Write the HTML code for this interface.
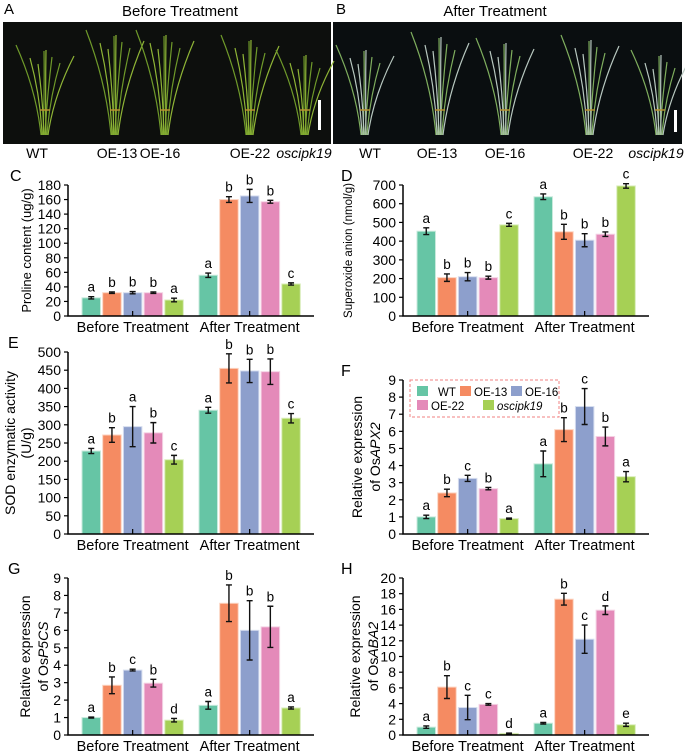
<!DOCTYPE html>
<html><head><meta charset="utf-8"><style>
html,body{margin:0;padding:0;background:#fff;}
svg{display:block;font-family:"Liberation Sans",Arial,sans-serif;}
</style></head><body>
<svg id="fig" width="685" height="756" viewBox="0 0 685 756">
  <text x="4" y="14" font-size="15">A</text>
  <text x="180" y="16" font-size="15" text-anchor="middle">Before Treatment</text>
  <text x="336" y="14" font-size="15">B</text>
  <text x="495" y="16" font-size="15" text-anchor="middle">After Treatment</text>
  <rect x="3" y="22" width="328" height="122" fill="#0d0f0d"/>
  <rect x="333" y="22" width="349" height="122" fill="#0a0e10"/>
  <g id="plants"></g>
  <rect x="318" y="100" width="3" height="30" fill="#fff"/>
  <rect x="674" y="110" width="3" height="22" fill="#fff"/>
  <g font-size="14" text-anchor="middle">
    <text x="37" y="158">WT</text>
    <text x="117" y="158">OE-13</text>
    <text x="160" y="158">OE-16</text>
    <text x="250" y="158">OE-22</text>
    <text x="304" y="158" font-style="italic">oscipk19</text>
    <text x="370" y="158">WT</text>
    <text x="437" y="158">OE-13</text>
    <text x="505" y="158">OE-16</text>
    <text x="593" y="158">OE-22</text>
    <text x="656" y="158" font-style="italic">oscipk19</text>
  </g>
  <g id="charts"></g>
</svg>
<script>
const NS="http://www.w3.org/2000/svg";
const colors=["#66c5a5","#f58b62","#8d9fcc","#e48ab9","#a6d055"];
const strokes=["#c8eadc","#fcd3c0","#d6ddef","#f4d2e4","#d9edb9"];
const groups=["Before Treatment","After Treatment"];

const cTicks=[0,20,40,60,80,100,120,140,160,180];
const cBefore=[25,32,32,32,22];const cBeforeErr=[1.5,1,1.5,1,2.5];const cBeforeLet=["a","b","b","b","a"];
const cAfter=[56,160,165,157,44];const cAfterErr=[3,4,9,2,1.5];const cAfterLet=["a","b","b","b","c"];

const dTicks=[0,100,200,300,400,500,600,700];
const dBefore=[453,205,210,205,487];const dBeforeErr=[18,20,22,8,8];const dBeforeLet=["a","b","b","b","c"];
const dAfter=[637,450,405,437,695];const dAfterErr=[15,40,35,12,12];const dAfterLet=["a","b","b","b","c"];

const eTicks=[0,50,100,150,200,250,300,350,400,450,500];
const eBefore=[228,272,295,278,204];const eBeforeErr=[7,20,55,28,12];const eBeforeLet=["a","b","a","b","c"];
const eAfter=[340,455,448,446,318];const eAfterErr=[8,40,32,35,13];const eAfterLet=["a","b","b","b","c"];

const fTicks=[0,1,2,3,4,5,6,7,8,9];
const fBefore=[1.0,2.4,3.25,2.65,0.9];const fBeforeErr=[0.1,0.22,0.18,0.07,0.03];const fBeforeLet=["a","b","c","b","a"];
const fAfter=[4.1,6.1,7.45,5.7,3.35];const fAfterErr=[0.75,0.7,1.05,0.55,0.3];const fAfterLet=["a","b","c","b","a"];

const gTicks=[0,1,2,3,4,5,6,7,8,9];
const gBefore=[1.0,2.85,3.72,2.97,0.85];const gBeforeErr=[0.03,0.48,0.05,0.22,0.1];const gBeforeLet=["a","b","c","b","d"];
const gAfter=[1.7,7.55,6.0,6.2,1.55];const gAfterErr=[0.22,1.05,1.7,1.18,0.06];const gAfterLet=["a","b","b","b","a"];

const hTicks=[0,2,4,6,8,10,12,14,16,18,20];
const hBefore=[1.0,6.1,3.5,3.9,0.2];const hBeforeErr=[0.15,1.45,1.55,0.1,0.05];const hBeforeLet=["a","b","c","c","d"];
const hAfter=[1.5,17.3,12.2,15.9,1.3];const hAfterErr=[0.1,0.75,1.8,0.55,0.2];const hAfterLet=["a","b","c","d","e"];

function mk(tag,attrs,parent){const e=document.createElementNS(NS,tag);for(const k in attrs)e.setAttribute(k,attrs[k]);parent.appendChild(e);return e;}

const root=document.getElementById("charts");
function panel(o){
  const g=mk("g",{},root);
  
  
  const max=o.ticks[o.ticks.length-1];
  const y=v=>o.y0-(v/max)*(o.y0-o.yTop);
  const ax=o.ax, pitch=20.7, bw=18.5;
  const L=mk("text",{x:o.lx,y:o.yTop-4,"font-size":16},g);L.textContent=o.letter;
  
  
  const tg=mk("g",{},g);
  
  
  o.title.forEach((t,i)=>{
    const cy=(o.y0+o.yTop)/2;
    const tx=mk("text",{x:0,y:0,"font-size":o.tfs,"text-anchor":"middle",transform:`translate(${o.tx[i]},${cy}) rotate(-90)`},tg);
    tx.innerHTML=t;
  });
  o.ticks.forEach(t=>{
    const yy=y(t);
    mk("line",{x1:ax-4,x2:ax,y1:yy,y2:yy,stroke:"#000","stroke-width":1.2},g);
    const tl=mk("text",{x:ax-7,y:yy+5,"font-size":14,"text-anchor":"end"},g);tl.textContent=t;
    
    
  });
  const sets=[[o.before,o.beforeErr,o.beforeLet,ax+14],[o.after,o.afterErr,o.afterLet,ax+131]];
  sets.forEach((s,gi)=>{
    s[0].forEach((v,i)=>{
      const bx=s[3]+i*pitch;
      const r=mk("rect",{x:bx,y:y(v),width:bw,height:o.y0-y(v),fill:colors[i],stroke:strokes[i],"stroke-width":1},g);
      
      
      const cx=bx+bw/2, hi=y(v+s[1][i]), lo=y(v-s[1][i]);
      const eb=mk("path",{d:`M${cx},${hi}V${lo}M${cx-3},${hi}H${cx+3}M${cx-3},${lo}H${cx+3}`,stroke:"#111","stroke-width":1.4,fill:"none"},g);
      
      
      const lt=mk("text",{x:cx,y:hi-5,"font-size":13.5,"text-anchor":"middle"},g);lt.textContent=s[2][i];
      
      
    });
    const gc=s[3]+2*pitch+bw/2;
    mk("line",{x1:gc,x2:gc,y1:o.y0,y2:o.y0-5,stroke:"#000","stroke-width":1.2},g);
    const gl=mk("text",{x:gc,y:o.y0+16,"font-size":14.5,"text-anchor":"middle"},g);gl.textContent=groups[gi];
    
    
  });
  mk("path",{d:`M${ax},${o.yTop}V${o.y0}H${ax+246}`,stroke:"#000","stroke-width":1.5,fill:"none"},g);
}
panel({name:"chart-c-proline",letter:"C",lx:10,ax:68,y0:316,yTop:185,ticks:cTicks,tfs:13,title:["Proline content (ug/g)"],tx:[31],before:cBefore,beforeErr:cBeforeErr,beforeLet:cBeforeLet,after:cAfter,afterErr:cAfterErr,afterLet:cAfterLet});
panel({name:"chart-d-superoxide",letter:"D",lx:341,ax:403,y0:316,yTop:185,ticks:dTicks,tfs:11.5,title:["Superoxide anion (nmol/g)"],tx:[352],before:dBefore,beforeErr:dBeforeErr,beforeLet:dBeforeLet,after:dAfter,afterErr:dAfterErr,afterLet:dAfterLet});
panel({name:"chart-e-sod",letter:"E",lx:8,ax:68,y0:534,yTop:352,ticks:eTicks,tfs:14,title:["SOD enzymatic activity","(U/g)"],tx:[15,31],before:eBefore,beforeErr:eBeforeErr,beforeLet:eBeforeLet,after:eAfter,afterErr:eAfterErr,afterLet:eAfterLet});
panel({name:"chart-f-osapx2",letter:"F",lx:341,ax:403,y0:534,yTop:380,ticks:fTicks,tfs:14,title:["Relative expression","of Os<tspan font-style='italic'>APX2</tspan>"],tx:[362,380],before:fBefore,beforeErr:fBeforeErr,beforeLet:fBeforeLet,after:fAfter,afterErr:fAfterErr,afterLet:fAfterLet});
panel({name:"chart-g-osp5cs",letter:"G",lx:8,ax:68,y0:735,yTop:578,ticks:gTicks,tfs:14,title:["Relative expression","of Os<tspan font-style='italic'>P5CS</tspan>"],tx:[30,48],before:gBefore,beforeErr:gBeforeErr,beforeLet:gBeforeLet,after:gAfter,afterErr:gAfterErr,afterLet:gAfterLet});
panel({name:"chart-h-osaba2",letter:"H",lx:341,ax:403,y0:735,yTop:578,ticks:hTicks,tfs:14,title:["Relative expression","of Os<tspan font-style='italic'>ABA2</tspan>"],tx:[360,378],before:hBefore,beforeErr:hBeforeErr,beforeLet:hBeforeLet,after:hAfter,afterErr:hAfterErr,afterLet:hAfterLet});

const lg=mk("g",{},root);


mk("rect",{x:410,y:380,width:149,height:37,fill:"#fff",stroke:"#f08080","stroke-width":1,"stroke-dasharray":"3,2"},lg);
const legItems=[["WT",417,391,0],["OE-13",460,391,1],["OE-16",511,391,2],["OE-22",417,405,3],["oscipk19",483,405,4]];
legItems.forEach(it=>{
  const e=mk("g",{},lg);
  
  
  mk("rect",{x:it[1],y:it[2]-5,width:11,height:10,fill:colors[it[3]]},e);
  const t=mk("text",{x:it[1]+(it[3]==0?21:14),y:it[2]+5,"font-size":11.5},e);t.textContent=it[0];
  if(it[3]==4)t.setAttribute("font-style","italic");
});

const pg=document.getElementById("plants");
const plantX=[45,115,165,250,305,365,440,505,590,660];
const plantTop=[45,30,30,35,50,45,32,38,35,50];
plantX.forEach((px,pi)=>{
  const g=mk("g",{},pg);
  
  
  const after=pi>=5;
  for(let k=0;k<8;k++){
    const dx=(k-3.5)*3+((k*7)%5-2)*2;
    const tip=px+dx*2;
    const top=plantTop[pi]+((k*13)%20);
    const col=after?(k%2?"#b8c8c0":"#7fae5e"):(k%2?"#8fb536":"#6f9a2a");
    mk("path",{d:`M${px+(k-4)*1},135 Q${px+dx*0.6},${(135+top)/2} ${tip},${top}`,stroke:col,"stroke-width":1.2,fill:"none"},g);
  }
  mk("line",{x1:px-5,x2:px+5,y1:110,y2:110,stroke:"#b89030","stroke-width":1.5},g);
});
</script>
</body></html>
